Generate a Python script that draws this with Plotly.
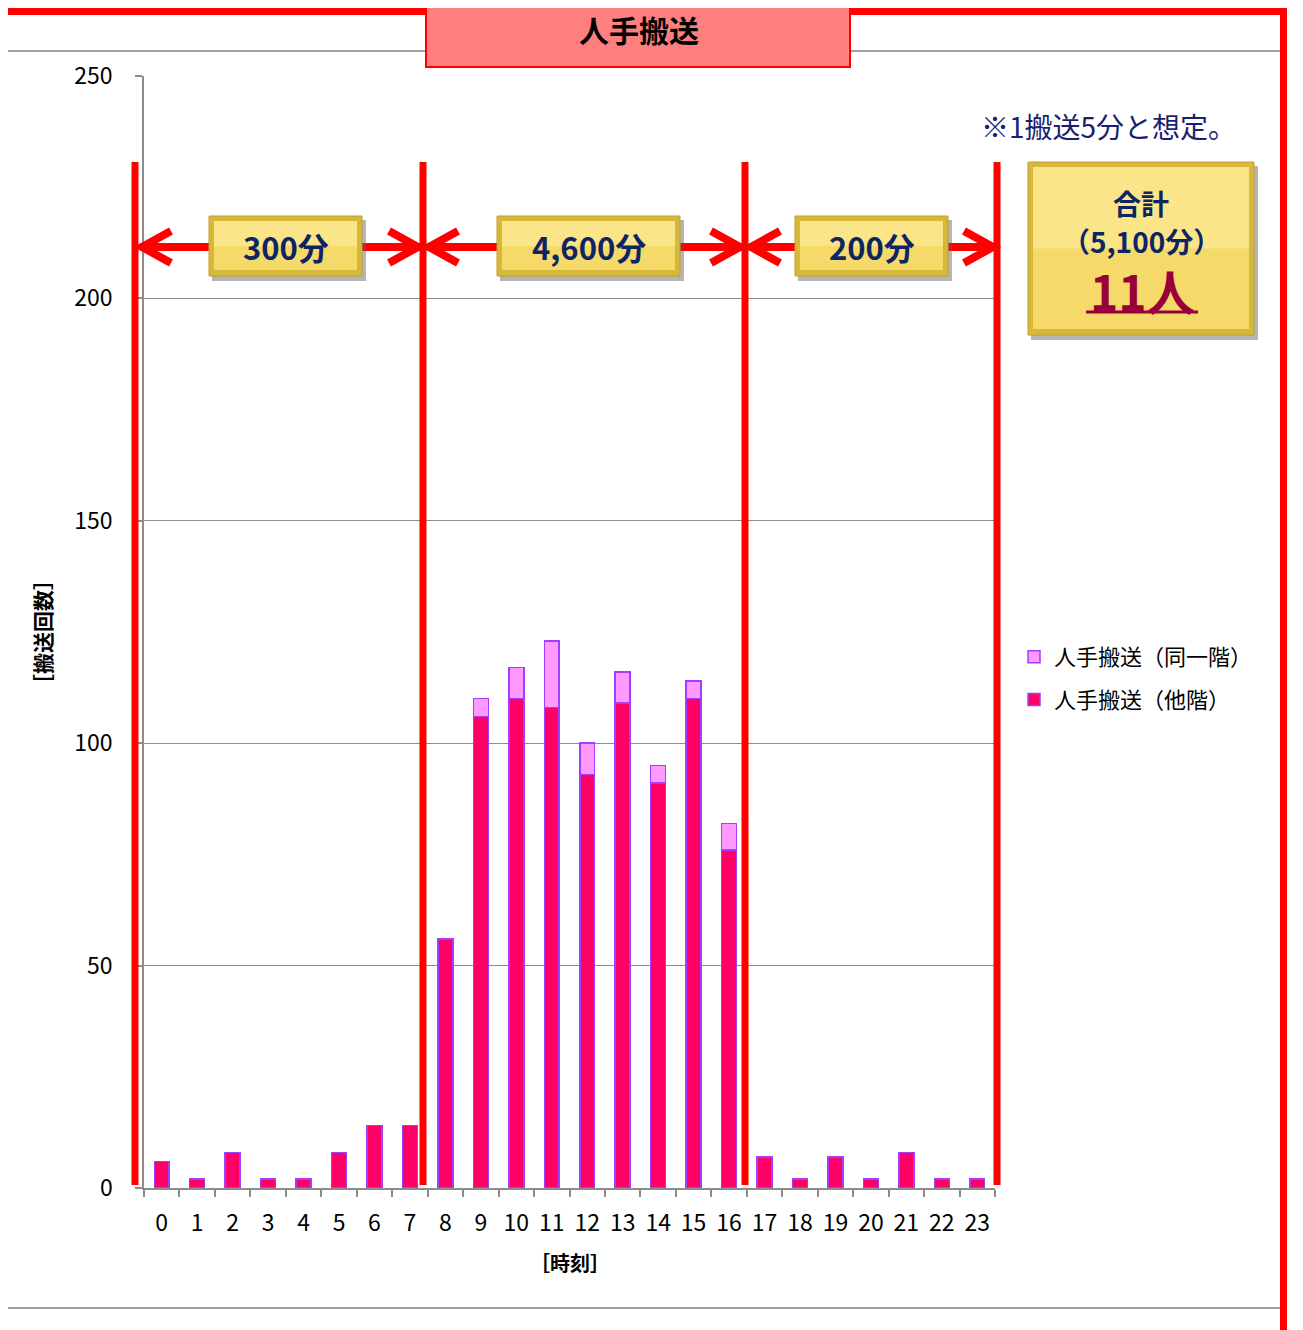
import plotly.graph_objects as go

# ---------------- data ----------------
hours = [str(h) for h in range(24)]
other_floor = [6, 2, 8, 2, 2, 8, 14, 14, 56, 106, 110, 108, 93, 109, 91, 110, 76, 7, 2, 7, 2, 8, 2, 2]
same_floor = [None, None, None, None, None, None, None, None, None, 4, 7, 15, 7, 7, 4, 4, 6,
              None, None, None, None, None, None, None]
y_ticks = [0, 50, 100, 150, 200, 250]
section_labels = ["300分", "4,600分", "200分"]
title_text = "人手搬送"
note_text = "※1搬送5分と想定。"
total_lines = ["合計", "（5,100分）", "11人"]
legend_names = ["人手搬送（他階）", "人手搬送（同一階）"]
x_title = "［時刻］"
y_title = "［搬送回数］"

# ---------------- layout helpers (page pixel -> paper) ----------------
OFF = 8  # page body margin
W, H = 1303 - OFF, 1330 - OFF
PL, PR, PT, PB = 144, 995, 76, 1188  # plot area in page pixels
L, R, T, B = PL - OFF, PR - OFF, PT - OFF, PB - OFF


def px(x):
    return (x - PL) / (PR - PL)


def py(y):
    return (PB - y) / (PB - PT)


JP = "Noto Sans CJK JP"
NAVY = "#0f2463"
RED = "#ff0000"

fig = go.Figure()
fig.add_trace(go.Bar(
    x=hours, y=other_floor, name=legend_names[0], width=0.42, legendgroup="a", legendrank=1002,
    marker=dict(color="#ff0066", line=dict(color="#a040ff", width=1.5)),
))
fig.add_trace(go.Bar(
    x=hours, y=same_floor, name=legend_names[1], width=0.42, legendgroup="b", legendrank=1001,
    marker=dict(color="#ff99ff", line=dict(color="#a040ff", width=1.5)),
))

shapes = []
anns = []

# outer frame
shapes.append(dict(type="line", xref="paper", yref="paper", x0=px(0), x1=px(1280), y0=py(51), y1=py(51),
                   line=dict(color="#a0a0a0", width=2)))
shapes.append(dict(type="line", xref="paper", yref="paper", x0=px(0), x1=px(1280), y0=py(1308), y1=py(1308),
                   line=dict(color="#a0a0a0", width=2)))
shapes.append(dict(type="line", xref="paper", yref="paper", x0=px(0), x1=px(1287), y0=py(11.5), y1=py(11.5),
                   line=dict(color=RED, width=7)))
shapes.append(dict(type="line", xref="paper", yref="paper", x0=px(1283.5), x1=px(1283.5), y0=py(8), y1=py(1335),
                   line=dict(color=RED, width=7)))

# title box
shapes.append(dict(type="rect", xref="paper", yref="paper", x0=px(426), x1=px(850), y0=py(5), y1=py(67),
                   fillcolor="#ff7f7f", line=dict(color=RED, width=2)))
anns.append(dict(text="<b>" + title_text + "</b>", xref="paper", yref="paper", x=px(639), y=py(29),
                 showarrow=False, font=dict(family=JP, size=30, color="black"), xanchor="center", yanchor="middle"))

# vertical red section lines
for xv in [135, 423, 745, 997]:
    shapes.append(dict(type="line", xref="paper", yref="paper", x0=px(xv), x1=px(xv), y0=py(162), y1=py(1185),
                       line=dict(color=RED, width=7)))

# double arrows
arrow_y = 247
for (xa, xb) in [(140, 420), (427, 742), (749, 995)]:
    shapes.append(dict(type="line", xref="paper", yref="paper", x0=px(xa), x1=px(xb), y0=py(arrow_y), y1=py(arrow_y),
                       line=dict(color=RED, width=8)))
    for tip, d in [(xa, 1), (xb, -1)]:
        path = "M {} {} L {} {} L {} {}".format(
            px(tip + d * 31), py(arrow_y - 16), px(tip + d * 2), py(arrow_y), px(tip + d * 31), py(arrow_y + 16))
        shapes.append(dict(type="path", xref="paper", yref="paper", path=path,
                           line=dict(color=RED, width=8)))


def gold_box(x0, x1, y0, y1):
    out = []
    out.append(dict(type="rect", xref="paper", yref="paper", x0=px(x0 + 3), x1=px(x1 + 4), y0=py(y0 + 4), y1=py(y1 + 5),
                    fillcolor="rgba(90,90,90,0.45)", line=dict(width=0)))
    out.append(dict(type="rect", xref="paper", yref="paper", x0=px(x0), x1=px(x1), y0=py(y0), y1=py(y1),
                    fillcolor="#d8b838", line=dict(color="#c0a030", width=1)))
    out.append(dict(type="rect", xref="paper", yref="paper", x0=px(x0 + 5), x1=px(x1 - 5), y0=py(y0 + 5), y1=py(y1 - 6),
                    fillcolor="#f5da6a", line=dict(width=0)))
    out.append(dict(type="rect", xref="paper", yref="paper", x0=px(x0 + 5), x1=px(x1 - 5), y0=py(y0 + 5), y1=py((y0 + y1) / 2),
                    fillcolor="#fae588", line=dict(width=0)))
    return out


box_pos = [(209, 362), (497, 680), (795, 948)]
for (bx0, bx1), lab in zip(box_pos, section_labels):
    shapes += gold_box(bx0, bx1, 216, 276)
    anns.append(dict(text="<b>" + lab + "</b>", xref="paper", yref="paper", x=px((bx0 + bx1) / 2), y=py(246),
                     showarrow=False, font=dict(family=JP, size=31, color=NAVY), xanchor="center", yanchor="middle"))

# total box
shapes += gold_box(1028, 1254, 162, 335)
anns.append(dict(text="<b>" + total_lines[0] + "</b>", xref="paper", yref="paper", x=px(1141), y=py(203),
                 showarrow=False, font=dict(family=JP, size=28, color=NAVY), xanchor="center", yanchor="middle"))
anns.append(dict(text="<b>" + total_lines[1] + "</b>", xref="paper", yref="paper", x=px(1141), y=py(241),
                 showarrow=False, font=dict(family=JP, size=28, color=NAVY), xanchor="center", yanchor="middle"))
anns.append(dict(text="<b>" + total_lines[2] + "</b>", xref="paper", yref="paper", x=px(1142), y=py(290),
                 showarrow=False, font=dict(family=JP, size=48, color="#99003a"), xanchor="center", yanchor="middle"))
shapes.append(dict(type="line", xref="paper", yref="paper", x0=px(1086), x1=px(1198), y0=py(312), y1=py(312),
                   line=dict(color="#99003a", width=3)))

# note
anns.append(dict(text=note_text, xref="paper", yref="paper", x=px(979), y=py(126),
                 showarrow=False, font=dict(family=JP, size=28, color="#1a1f71"), xanchor="left", yanchor="middle"))

# axis titles
anns.append(dict(text="<b>" + y_title + "</b>", xref="paper", yref="paper", x=px(42), y=py(632), textangle=-90,
                 showarrow=False, font=dict(family=JP, size=21, color="black"), xanchor="center", yanchor="middle"))
anns.append(dict(text="<b>" + x_title + "</b>", xref="paper", yref="paper", x=px(570), y=py(1262),
                 showarrow=False, font=dict(family=JP, size=20, color="black"), xanchor="center", yanchor="middle"))

fig.update_layout(
    width=W, height=H,
    margin=dict(l=L, r=W - R, t=T, b=H - B, pad=0),
    paper_bgcolor="white", plot_bgcolor="white",
    barmode="stack",
    font=dict(family=JP, color="black"),
    shapes=shapes,
    annotations=anns,
    showlegend=True,
    legend=dict(x=px(1014), y=py(636), xanchor="left", yanchor="top", traceorder="grouped",
                font=dict(family=JP, size=22, color="black"), tracegroupgap=11,
                bgcolor="rgba(0,0,0,0)"),
    xaxis=dict(type="category", range=[-0.5, 23.5], showline=True, linecolor="#8c8c8c", linewidth=2,
               ticks="outside", tickson="boundaries", ticklen=7, tickcolor="#8c8c8c", tickwidth=1.5,
               tickfont=dict(family=JP, size=23, color="black"), ticklabelstandoff=13, showgrid=False),
    yaxis=dict(range=[0, 250], tickvals=y_ticks, showline=True, linecolor="#8c8c8c", linewidth=1.5,
               ticks="outside", ticklen=7, tickcolor="#8c8c8c", tickwidth=1.5,
               showgrid=True, gridcolor="#8c8c8c", gridwidth=1.2, zeroline=False,
               tickfont=dict(family=JP, size=23, color="black"), ticklabelstandoff=18),
)

fig.write_html("out.html")
